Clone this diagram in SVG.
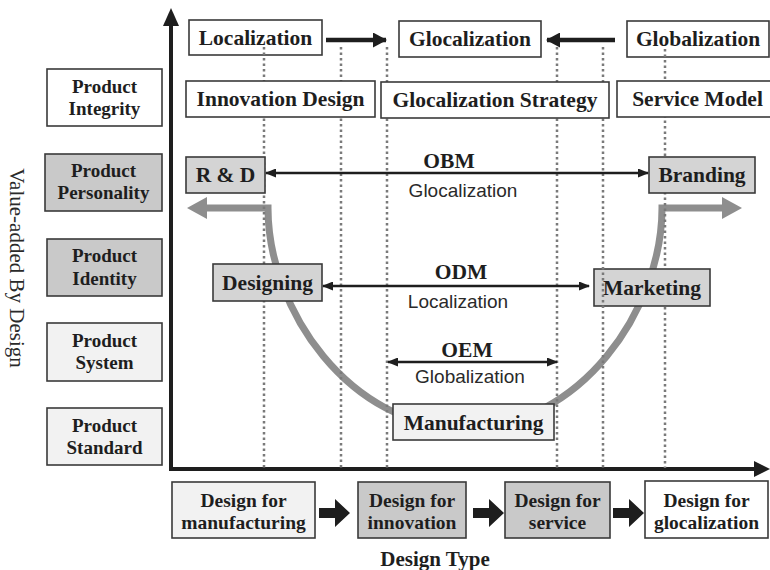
<svg xmlns="http://www.w3.org/2000/svg" width="770" height="570" viewBox="0 0 770 570">
<style>
.bx{stroke:#3a3a3a;stroke-width:1.6}
.w{fill:#ffffff}
.lg{fill:#f2f2f2}
.mg{fill:#d4d4d4}
.dg{fill:#c9c9c9}
.t{font-family:"Liberation Serif","Times New Roman",serif;font-weight:bold;fill:#1e1e1e;text-anchor:middle}
.t21{font-size:21.5px}
.t19{font-size:19px}
.t195{font-size:19.5px}
.s{font-family:"Liberation Sans",Arial,sans-serif;font-size:19px;fill:#2a2a2a;text-anchor:middle}
.dot{stroke:#7a7a7a;stroke-width:2.5;stroke-dasharray:2.5 3;fill:none}
.thin{stroke:#1e1e1e;stroke-width:2.5;fill:none}
.thick{stroke:#1e1e1e;stroke-width:4.5;fill:none}
.blk{fill:#1e1e1e}
</style>
<defs>
<marker id="ah" markerUnits="userSpaceOnUse" markerWidth="11" markerHeight="9" refX="10" refY="4.5" orient="auto-start-reverse">
<path d="M0,0 L11,4.5 L0,9 z" fill="#1e1e1e"/>
</marker>
<marker id="ahb" markerUnits="userSpaceOnUse" markerWidth="14" markerHeight="15" refX="13" refY="7.5" orient="auto">
<path d="M0,0 L14,7.5 L0,15 z" fill="#1e1e1e"/>
</marker>
</defs>
<rect width="770" height="570" fill="#ffffff"/>

<g id="axes">
<line x1="171" y1="22" x2="171" y2="471" stroke="#1e1e1e" stroke-width="4"/>
<polygon points="171,8 163,26 179,26" class="blk"/>
<line x1="169" y1="469" x2="756" y2="469" stroke="#1e1e1e" stroke-width="4"/>
<polygon points="770,469 754,461 754,477" class="blk"/>
</g>

<g id="localization"><rect x="189" y="20" width="133" height="35" class="bx w"/><text x="255.5" y="45" class="t t21">Localization</text></g>
<g id="glocalization"><rect x="399" y="21" width="142" height="36" class="bx w"/><text x="470" y="46" class="t t21">Glocalization</text></g>
<g id="globalization"><rect x="627" y="21" width="142" height="36" class="bx w"/><text x="698" y="46" class="t t21">Globalization</text></g>

<g id="value-curve">
<path d="M205 208 L268 208 C268 310 350 428 465 428 C580 428 662 310 662 208 L724 208" fill="none" stroke="#8e8e8e" stroke-width="7" stroke-linejoin="miter"/>
<polygon points="187,208 207,197 207,219" fill="#8e8e8e"/>
<polygon points="742,208 722,197 722,219" fill="#8e8e8e"/>
</g>

<g id="marketing"><rect x="594" y="269" width="116" height="37" class="bx mg"/><text x="652" y="295" class="t t21">Marketing</text></g>

<g id="grid-lines">
<line x1="264" y1="47" x2="264" y2="468" class="dot"/>
<line x1="341" y1="47" x2="341" y2="468" class="dot"/>
<line x1="387" y1="47" x2="387" y2="468" class="dot"/>
<line x1="557" y1="47" x2="557" y2="468" class="dot"/>
<line x1="603" y1="47" x2="603" y2="468" class="dot"/>
<line x1="665" y1="49" x2="665" y2="269" class="dot"/>
<line x1="665" y1="307" x2="665" y2="468" class="dot"/>
</g>

<g id="innovation-design"><rect x="186" y="81" width="189" height="36" class="bx w"/><text x="280.5" y="106" class="t t21">Innovation Design</text></g>
<g id="glocalization-strategy"><rect x="381" y="82" width="228" height="36" class="bx w"/><text x="495" y="107" class="t t21">Glocalization Strategy</text></g>
<g id="service-model"><rect x="617" y="81" width="160" height="36" class="bx w"/><text x="697.5" y="106" class="t t21">Service Model</text></g>

<g id="rd"><rect x="186" y="157" width="79" height="36" class="bx mg"/><text x="225.5" y="182" class="t t21">R &amp; D</text></g>
<g id="branding"><rect x="649" y="157" width="106" height="36" class="bx mg"/><text x="702" y="182" class="t t21">Branding</text></g>
<g id="designing"><rect x="213" y="264" width="109" height="37" class="bx mg"/><text x="267.5" y="290" class="t t21">Designing</text></g>
<g id="manufacturing"><rect x="393" y="404" width="161" height="36" class="bx lg"/><text x="473.5" y="430" class="t t21">Manufacturing</text></g>

<g id="product-integrity"><rect x="47" y="69" width="115" height="57" class="bx w"/><text class="t t19"><tspan x="104.5" y="93">Product</tspan><tspan x="104.5" y="115">Integrity</tspan></text></g>
<g id="product-personality"><rect x="45" y="154" width="117" height="57" class="bx dg"/><text class="t t19"><tspan x="103.5" y="177">Product</tspan><tspan x="103.5" y="199">Personality</tspan></text></g>
<g id="product-identity"><rect x="47" y="239" width="115" height="57" class="bx dg"/><text class="t t19"><tspan x="104.5" y="262">Product</tspan><tspan x="104.5" y="285">Identity</tspan></text></g>
<g id="product-system"><rect x="47" y="323" width="115" height="58" class="bx lg"/><text class="t t19"><tspan x="104.5" y="347">Product</tspan><tspan x="104.5" y="369">System</tspan></text></g>
<g id="product-standard"><rect x="47" y="408" width="115" height="57" class="bx lg"/><text class="t t19"><tspan x="104.5" y="432">Product</tspan><tspan x="104.5" y="454">Standard</tspan></text></g>

<g id="design-manufacturing"><rect x="172" y="482" width="143" height="56" class="bx lg"/><text class="t t195"><tspan x="243.5" y="507">Design for</tspan><tspan x="243.5" y="529">manufacturing</tspan></text></g>
<g id="design-innovation"><rect x="358" y="482" width="108" height="56" class="bx dg"/><text class="t t195"><tspan x="412" y="507">Design for</tspan><tspan x="412" y="529">innovation</tspan></text></g>
<g id="design-service"><rect x="505" y="482" width="105" height="56" class="bx dg"/><text class="t t195"><tspan x="557.5" y="507">Design for</tspan><tspan x="557.5" y="529">service</tspan></text></g>
<g id="design-glocalization"><rect x="645" y="481" width="123" height="57" class="bx w"/><text class="t t195"><tspan x="706.5" y="507">Design for</tspan><tspan x="706.5" y="529">glocalization</tspan></text></g>

<g id="connectors">
<line x1="326" y1="40" x2="386" y2="40" class="thick" marker-end="url(#ahb)"/>
<line x1="615" y1="40" x2="547" y2="40" class="thick" marker-end="url(#ahb)"/>
<line x1="266" y1="173" x2="648" y2="173" class="thin" marker-start="url(#ah)" marker-end="url(#ah)"/>
<line x1="323" y1="286" x2="589" y2="286" class="thin" marker-start="url(#ah)" marker-end="url(#ah)"/>
<line x1="388" y1="362" x2="557" y2="362" class="thin" marker-start="url(#ah)" marker-end="url(#ah)"/>
<polygon points="319,508 335,508 335,499 350,513 335,527 335,518 319,518" class="blk"/>
<polygon points="473,508 489,508 489,499 504,513 489,527 489,518 473,518" class="blk"/>
<polygon points="613,508 629,508 629,499 644,513 629,527 629,518 613,518" class="blk"/>
</g>

<g id="labels">
<text x="449" y="168" class="t t21">OBM</text>
<text x="463" y="197" class="s">Glocalization</text>
<text x="461" y="279" class="t t21">ODM</text>
<text x="458" y="308" class="s">Localization</text>
<text x="467" y="357" class="t t21">OEM</text>
<text x="470" y="383" class="s">Globalization</text>
<text x="435" y="566" class="t" style="font-size:21px">Design Type</text>
<text transform="translate(10,268) rotate(90)" style="font-family:'Liberation Serif','Times New Roman',serif;font-size:21px;fill:#2a2a2a;text-anchor:middle">Value-added By Design</text>
</g>
</svg>
